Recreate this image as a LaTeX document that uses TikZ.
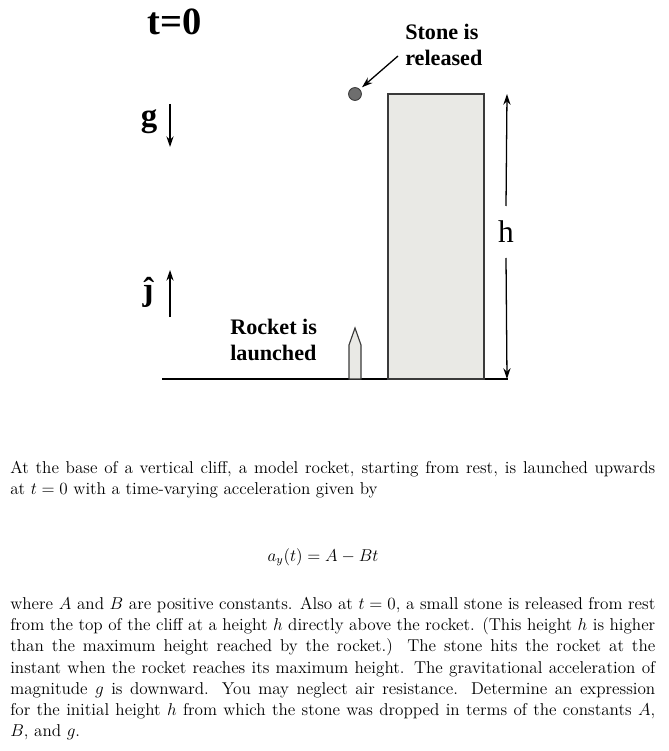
\documentclass[tikz,border=0pt]{standalone}
\usepackage{fontspec}
\usetikzlibrary{arrows.meta}
\newfontfamily\lblfont{Liberation Serif}
\definecolor{cliffgray}{HTML}{E9E9E5}
\definecolor{stonegray}{HTML}{6E6E6E}
\definecolor{edgegray}{HTML}{3A3A3A}
\tikzset{
  lbl/.style={font=\lblfont\bfseries\fontsize{15.5}{18.4}\selectfont, align=left, inner sep=0pt},
  biglbl/.style={font=\lblfont\bfseries\fontsize{23}{27}\selectfont, inner sep=0pt},
  para/.style={font=\fontsize{12}{14.84}\selectfont, text width=451.5pt, align=justify, inner sep=0pt},
  vec/.style={-{Stealth[length=7.5pt,width=5pt]}, line width=0.9pt},
}
\begin{document}
\begin{tikzpicture}[x=0.7pt, y=-0.7pt]
    \useasboundingbox (0,0) rectangle (668,751);

    % ground and cliff
    \draw[line width=1pt] (162,379) -- (508,379);
    \filldraw[fill=cliffgray, draw=edgegray, line width=0.9pt] (388,94) rectangle (484,379);

    % rocket
    \filldraw[fill=cliffgray, draw=edgegray, line width=0.8pt]
        (349,379) -- (349,345) -- (355,328) -- (361,345) -- (361,379) -- cycle;

    % stone
    \node[circle, fill=stonegray, draw=edgegray, line width=0.6pt, minimum size=9pt, inner sep=0pt] (stone) at (355,94) {};

    % labels
    \node[biglbl, font=\lblfont\bfseries\fontsize{27}{31}\selectfont] (tzero) at (175,22) {t=0};
    \node[lbl, anchor=west] (stonelbl) at (405,45) {Stone is\\released};
    \node[lbl, anchor=west] (rocketlbl) at (230,340) {Rocket is\\launched};
    \node[biglbl] (glbl) at (149,122) {g};
    \node[biglbl] (jlbl) at (148,292) {ĵ};
    \node[font=\lblfont\fontsize{22}{26}\selectfont, inner sep=0pt, minimum height=36pt] (hlbl) at (506,232) {h};

    % arrows
    \coordinate (stonetail) at (398,56);
    \draw[vec, shorten >=2pt] (stonetail) -- (stone.north east);
    \coordinate (gtop) at (170,104);
    \coordinate (gbot) at (170,147);
    \draw[vec] (gtop) -- (gbot);
    \coordinate (jbot) at (170,317);
    \coordinate (jtop) at (170,270);
    \draw[vec] (jbot) -- (jtop);
    \coordinate (htop) at (507,94);
    \coordinate (hbot) at (507,379);
    \draw[vec] (hlbl.north) -- (htop);
    \draw[vec] (hlbl.south) -- (hbot);

    % problem text
    \node[para, anchor=north west] (partone) at (10,461) {At the base of a vertical cliff, a model rocket, starting from rest, is launched upwards\linebreak at $t=0$ with a time-varying acceleration given by};
    \node[font=\fontsize{12}{14.84}\selectfont, inner sep=0pt] (accel) at (323,557) {$a_y(t) = A - Bt$};
    \node[para, anchor=north west] (parttwo) at (10,597) {where $A$ and $B$ are positive constants. Also at $t=0$, a small stone is released from rest\linebreak from the top of the cliff at a height $h$ directly above the rocket. (This height $h$ is higher\linebreak than the maximum height reached by the rocket.) The stone hits the rocket at the\linebreak instant when the rocket reaches its maximum height. The gravitational acceleration of\linebreak magnitude $g$ is downward. You may neglect air resistance. Determine an expression\linebreak for the initial height $h$ from which the stone was dropped in terms of the constants $A$,\linebreak $B$, and $g$.};
\end{tikzpicture}
\end{document}
